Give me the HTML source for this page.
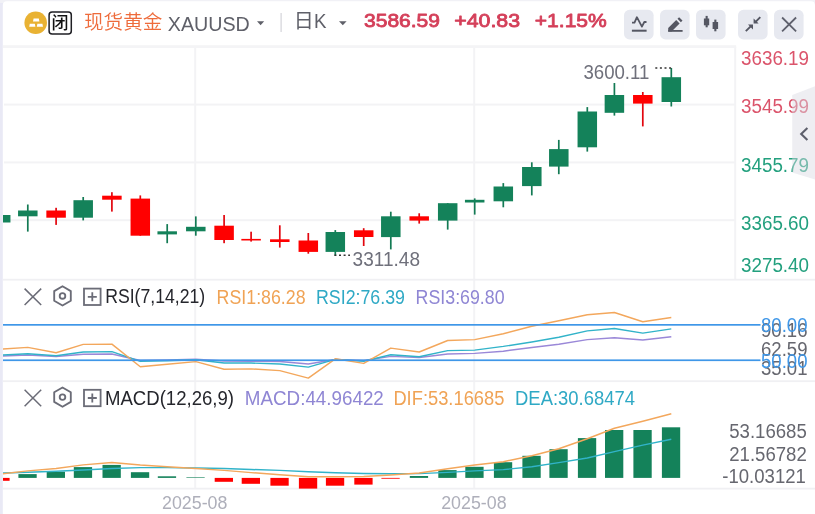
<!DOCTYPE html>
<html lang="zh"><head><meta charset="utf-8"><title>现货黄金 XAUUSD</title>
<style>html,body{margin:0;padding:0;background:#fff;}svg{display:block;font-family:'Liberation Sans', 'Noto Sans CJK SC', sans-serif;}</style></head>
<body><svg width="815" height="514" viewBox="0 0 815 514">
<defs><clipPath id="plot"><rect x="2.9" y="47" width="732" height="233"/></clipPath><clipPath id="plot2"><rect x="2.9" y="281" width="732" height="208"/></clipPath></defs>
<rect x="0" y="0" width="815" height="514" fill="#e9e9f5"/>
<rect x="0" y="0" width="815" height="3" fill="#f1f1f6"/>
<path d="M2.8 514 V5.2 a4 4 0 0 1 4-4 H811 a4 4 0 0 1 4 4 V514 Z" fill="#fff"/>
<rect x="4" y="103.6" width="731" height="2" fill="#f3f3f5"/>
<rect x="4" y="161.4" width="731" height="2" fill="#f3f3f5"/>
<rect x="4" y="219.2" width="731" height="2" fill="#f3f3f5"/>
<rect x="194.2" y="47" width="2" height="441" fill="#f3f3f5"/>
<rect x="473.2" y="47" width="2" height="441" fill="#f3f3f5"/>
<rect x="734.2" y="47" width="2" height="233" fill="#f3f3f5"/>
<rect x="3" y="45.2" width="733.2" height="2.8" fill="#f4f4f6"/>
<rect x="3" y="278.8" width="812" height="1.8" fill="#f0f0f3"/>
<rect x="3" y="380.3" width="812" height="1.8" fill="#f0f0f3"/>
<rect x="3" y="487.70000000000005" width="812" height="1.8" fill="#f0f0f3"/>
<circle cx="35.7" cy="22.8" r="11.3" fill="#e9b233"/>
<path d="M33.6 18.5h5.2l0.6 3.1h-6.4z M29.8 23.7h5l0.6 3.1h-6.2z M37.4 23.7h5l0.6 3.1h-6.2z" fill="#fff"/>
<rect x="49.1" y="12" width="22.2" height="22" rx="3" fill="#fff" stroke="#1f1f24" stroke-width="1.5"/>
<text x="51.6" y="29.4" font-size="17" fill="#111" font-weight="500">闭</text>
<text x="84" y="28.6" font-size="19.6" fill="#ee6b3b" font-weight="350">现货黄金</text>
<text x="167.8" y="30.9" font-size="20" fill="#5f6069" textLength="82" lengthAdjust="spacingAndGlyphs">XAUUSD</text>
<path d="M257 21.2h7.2l-3.6 4z" fill="#5f6069"/>
<rect x="280.5" y="13" width="1.2" height="19" fill="#d3d3d9"/>
<text x="293.8" y="27.9" font-size="20" fill="#5f6069">日</text>
<text x="314" y="27.6" font-size="20" fill="#5f6069" textLength="12.5" lengthAdjust="spacingAndGlyphs">K</text>
<path d="M339 21.2h7.6l-3.8 4z" fill="#5f6069"/>
<text x="364" y="27.1" font-size="19.2" fill="#d43f59" textLength="76" lengthAdjust="spacingAndGlyphs" stroke="#d43f59" stroke-width="0.85" stroke-linejoin="round">3586.59</text>
<text x="454.3" y="27.1" font-size="19.2" fill="#d43f59" textLength="65.8" lengthAdjust="spacingAndGlyphs" stroke="#d43f59" stroke-width="0.85" stroke-linejoin="round">+40.83</text>
<text x="534.8" y="27.1" font-size="19.2" fill="#d43f59" textLength="72" lengthAdjust="spacingAndGlyphs" stroke="#d43f59" stroke-width="0.85" stroke-linejoin="round">+1.15%</text>
<rect x="624" y="9.8" width="29.6" height="29.6" rx="5.5" fill="#e7e9f0"/>
<rect x="660" y="9.8" width="29.6" height="29.6" rx="5.5" fill="#e7e9f0"/>
<rect x="696" y="9.8" width="29.6" height="29.6" rx="5.5" fill="#e7e9f0"/>
<rect x="738" y="9.8" width="29.6" height="29.6" rx="5.5" fill="#e7e9f0"/>
<rect x="774" y="9.8" width="29.6" height="29.6" rx="5.5" fill="#e7e9f0"/>
<path d="M632 22.6h2.5l2.4-5.4 5 9.4 2.4-4.6h2.2" fill="none" stroke="#555763" stroke-width="1.8" stroke-linejoin="round"/>
<rect x="631.9" y="29.7" width="14.7" height="2" fill="#555763"/>
<path d="M668.2 31.5v-3.4l8-8 3.4 3.4-8 8z M677.5 18.8l1.6-1.6 3.4 3.4-1.6 1.6z" fill="#555763"/>
<rect x="668.2" y="30" width="14.4" height="1.8" fill="#555763"/>
<rect x="703.9" y="18.5" width="5.3" height="6.8" fill="#555763"/><rect x="705.6" y="15.9" width="2.1" height="11.4" fill="#555763"/>
<rect x="712.6" y="22" width="5.5" height="7" fill="#555763"/><rect x="714.3" y="19.6" width="2.1" height="11.7" fill="#555763"/>
<path d="M745.8 31.2l5.4-5.4M760.3 17.2l-5.2 5.2" stroke="#555763" stroke-width="1.9" fill="none"/><path d="M748 24.5h5v5zM753.6 18.6v5h5z" fill="#555763"/>
<path d="M782.1 17.5l14 13.8M796.1 17.5l-14 13.8" stroke="#5f616d" stroke-width="1.8" fill="none"/>
<g clip-path="url(#plot)">
<rect x="-0.15" y="215" width="1.7" height="7.5" fill="#137a54"/>
<rect x="-9.05" y="215" width="19.5" height="7.5" fill="#14825a"/>
<rect x="26.95" y="204.5" width="1.7" height="27.1" fill="#137a54"/>
<rect x="18.05" y="210.5" width="19.5" height="5.8" fill="#14825a"/>
<rect x="55.25" y="207.8" width="1.7" height="17.1" fill="#e2060e"/>
<rect x="46.35" y="210.5" width="19.5" height="7.2" fill="#ff0000"/>
<rect x="82.35" y="197" width="1.7" height="23.4" fill="#137a54"/>
<rect x="73.45" y="200.2" width="19.5" height="17.5" fill="#14825a"/>
<rect x="111.05" y="192.2" width="1.7" height="19.4" fill="#e2060e"/>
<rect x="102.15" y="195.7" width="19.5" height="4.0" fill="#ff0000"/>
<rect x="139.45" y="195.4" width="1.7" height="40.3" fill="#e2060e"/>
<rect x="130.55" y="198.6" width="19.5" height="37.1" fill="#ff0000"/>
<rect x="166.35" y="224.1" width="1.7" height="19.1" fill="#137a54"/>
<rect x="157.45" y="231.3" width="19.5" height="3.1" fill="#14825a"/>
<rect x="194.95" y="216.4" width="1.7" height="19.3" fill="#137a54"/>
<rect x="186.05" y="226.8" width="19.5" height="4.5" fill="#14825a"/>
<rect x="223.25" y="215" width="1.7" height="28.2" fill="#e2060e"/>
<rect x="214.35" y="225.7" width="19.5" height="14.3" fill="#ff0000"/>
<rect x="250.25" y="231.7" width="1.7" height="9.9" fill="#e2060e"/>
<rect x="241.35" y="238.9" width="19.5" height="1.6" fill="#ff0000"/>
<rect x="278.95" y="225.3" width="1.7" height="22.3" fill="#e2060e"/>
<rect x="270.05" y="239.3" width="19.5" height="2.7" fill="#ff0000"/>
<rect x="307.45" y="233" width="1.7" height="20.7" fill="#e2060e"/>
<rect x="298.55" y="240.5" width="19.5" height="11.4" fill="#ff0000"/>
<rect x="334.45" y="230.1" width="1.7" height="25.5" fill="#137a54"/>
<rect x="325.55" y="232" width="19.5" height="19.9" fill="#14825a"/>
<rect x="362.85" y="228.2" width="1.7" height="17.8" fill="#e2060e"/>
<rect x="353.95" y="230.3" width="19.5" height="6.7" fill="#ff0000"/>
<rect x="389.95" y="211.7" width="1.7" height="37.7" fill="#137a54"/>
<rect x="381.05" y="216.3" width="19.5" height="20.8" fill="#14825a"/>
<rect x="418.35" y="213.3" width="1.7" height="10.3" fill="#e2060e"/>
<rect x="409.45" y="216.3" width="19.5" height="4.3" fill="#ff0000"/>
<rect x="446.85" y="203.2" width="1.7" height="26.4" fill="#137a54"/>
<rect x="437.95" y="203.2" width="19.5" height="17.4" fill="#14825a"/>
<rect x="473.85" y="198.4" width="1.7" height="16.2" fill="#137a54"/>
<rect x="464.95" y="199.8" width="19.5" height="2.7" fill="#14825a"/>
<rect x="502.45" y="183.1" width="1.7" height="24.2" fill="#137a54"/>
<rect x="493.55" y="186.5" width="19.5" height="14.8" fill="#14825a"/>
<rect x="530.95" y="162.3" width="1.7" height="33.1" fill="#137a54"/>
<rect x="522.05" y="167" width="19.5" height="19.1" fill="#14825a"/>
<rect x="557.95" y="139.9" width="1.7" height="34.3" fill="#137a54"/>
<rect x="549.05" y="149.1" width="19.5" height="17.5" fill="#14825a"/>
<rect x="586.45" y="107.1" width="1.7" height="44.5" fill="#137a54"/>
<rect x="577.55" y="111.5" width="19.5" height="35.8" fill="#14825a"/>
<rect x="613.55" y="83" width="1.7" height="32.6" fill="#137a54"/>
<rect x="604.65" y="95" width="19.5" height="17.8" fill="#14825a"/>
<rect x="641.95" y="92" width="1.7" height="34.4" fill="#e2060e"/>
<rect x="633.05" y="95" width="19.5" height="8.6" fill="#ff0000"/>
<rect x="670.45" y="68" width="1.7" height="38.5" fill="#137a54"/>
<rect x="661.55" y="77.2" width="19.5" height="24.8" fill="#14825a"/>
</g>
<path d="M655.3 68H671.5" stroke="#333" stroke-width="1.4" stroke-dasharray="2 2.6" fill="none"/>
<path d="M334.4 255.3H350" stroke="#333" stroke-width="1.4" stroke-dasharray="2 2.6" fill="none"/>
<text x="583.4" y="78.6" font-size="19.6" fill="#6f707b" textLength="66" lengthAdjust="spacingAndGlyphs">3600.11</text>
<text x="352.6" y="265.9" font-size="19.6" fill="#6f707b" textLength="67.4" lengthAdjust="spacingAndGlyphs">3311.48</text>
<text x="741" y="64.9" font-size="20" fill="#db546b" textLength="68" lengthAdjust="spacingAndGlyphs">3636.19</text>
<text x="741" y="112.8" font-size="20" fill="#db546b" textLength="68" lengthAdjust="spacingAndGlyphs">3545.99</text>
<text x="741" y="171.9" font-size="20" fill="#23a07e" textLength="68" lengthAdjust="spacingAndGlyphs">3455.79</text>
<text x="741" y="230.1" font-size="20" fill="#23a07e" textLength="68" lengthAdjust="spacingAndGlyphs">3365.60</text>
<text x="741" y="272.2" font-size="20" fill="#23a07e" textLength="68" lengthAdjust="spacingAndGlyphs">3275.40</text>
<path d="M792.2 95L815 86.2V179.4L792.2 172.6Z" fill="#d9d9e2" fill-opacity="0.46"/>
<path d="M807.4 127.9l-6.2 6.1 6.2 6.1" stroke="#5d5f6b" stroke-width="2.1" fill="none"/>
<path d="M24.6 288.6l16.6 16.4M41.2 288.6l-16.6 16.4" stroke="#6b6c77" stroke-width="1.5" fill="none"/>
<path d="M62.5 286.29999999999995l8.3 4.8v9.6l-8.3 4.8l-8.3-4.8v-9.6z" stroke="#6b6c77" stroke-width="1.85" fill="none" stroke-linejoin="round"/>
<circle cx="62.5" cy="295.9" r="2.8" stroke="#6b6c77" stroke-width="1.85" fill="none"/>
<rect x="84" y="288.6" width="16.6" height="16.4" stroke="#6b6c77" stroke-width="1.8" fill="none"/>
<path d="M87.8 296.8h9M92.3 292.3v9" stroke="#6b6c77" stroke-width="1.8" fill="none"/>
<text x="105.2" y="303.4" font-size="20" fill="#25262c" textLength="100" lengthAdjust="spacingAndGlyphs">RSI(7,14,21)</text>
<text x="216.6" y="303.7" font-size="19.4" fill="#f0a355" textLength="89" lengthAdjust="spacingAndGlyphs">RSI1:86.28</text>
<text x="316" y="303.7" font-size="19.4" fill="#2fa9c5" textLength="89" lengthAdjust="spacingAndGlyphs">RSI2:76.39</text>
<text x="415.6" y="303.7" font-size="19.4" fill="#8f86d4" textLength="89" lengthAdjust="spacingAndGlyphs">RSI3:69.80</text>
<g clip-path="url(#plot2)">
<polyline points="0.7,356.0 27.8,355.0 56.1,356.5 83.2,354.2 111.9,354.0 140.3,360.5 167.2,360.0 195.8,359.3 224.1,361.0 251.1,361.2 279.8,361.5 308.3,364.0 335.3,359.5 363.7,360.5 390.8,356.4 419.2,357.5 447.7,354.0 474.7,353.4 503.3,351.2 531.8,347.5 558.8,344.2 587.3,339.6 614.4,337.8 642.8,340.0 671.3,336.8" fill="none" stroke="#9a88d8" stroke-width="1.45" stroke-linejoin="round"/>
<polyline points="0.7,355.1 27.8,353.8 56.1,355.7 83.2,352.0 111.9,351.6 140.3,361.4 167.2,360.8 195.8,359.7 224.1,363.0 251.1,363.0 279.8,364.0 308.3,367.1 335.3,359.4 363.7,361.2 390.8,354.8 419.2,356.8 447.7,350.6 474.7,350.1 503.3,346.4 531.8,342.0 558.8,337.3 587.3,330.9 614.4,328.5 642.8,333.1 671.3,328.9" fill="none" stroke="#31b3c9" stroke-width="1.45" stroke-linejoin="round"/>
<polyline points="0.7,349.2 27.8,347.4 56.1,352.7 83.2,344.4 111.9,344.1 140.3,366.7 167.2,364.3 195.8,361.6 224.1,369.3 251.1,368.9 279.8,370.6 308.3,378.1 335.3,358.8 363.7,363.4 390.8,348.1 419.2,352.0 447.7,340.5 474.7,339.6 503.3,333.7 531.8,326.3 558.8,320.8 587.3,314.7 614.4,312.5 642.8,321.7 671.3,317.5" fill="none" stroke="#f3a75c" stroke-width="1.45" stroke-linejoin="round"/>
</g>
<rect x="3" y="324" width="757.5" height="1.7" fill="#3f97e8"/>
<rect x="3" y="359.4" width="757.5" height="1.7" fill="#3f97e8"/>
<text x="761" y="337.2" font-size="19.6" fill="#66676f" textLength="46.5" lengthAdjust="spacingAndGlyphs">90.16</text>
<text x="761" y="355.6" font-size="19.6" fill="#66676f" textLength="46.5" lengthAdjust="spacingAndGlyphs">62.59</text>
<text x="761" y="374.8" font-size="19.6" fill="#66676f" textLength="46.5" lengthAdjust="spacingAndGlyphs">35.01</text>
<text x="761" y="331.8" font-size="19.6" fill="#3f97e8" textLength="46.5" lengthAdjust="spacingAndGlyphs">80.00</text>
<text x="761" y="367.9" font-size="19.6" fill="#3f97e8" textLength="46.5" lengthAdjust="spacingAndGlyphs">50.00</text>
<path d="M24.6 389.8l16.6 16.4M41.2 389.8l-16.6 16.4" stroke="#6b6c77" stroke-width="1.5" fill="none"/>
<path d="M62.5 387.49999999999994l8.3 4.8v9.6l-8.3 4.8l-8.3-4.8v-9.6z" stroke="#6b6c77" stroke-width="1.85" fill="none" stroke-linejoin="round"/>
<circle cx="62.5" cy="397.09999999999997" r="2.8" stroke="#6b6c77" stroke-width="1.85" fill="none"/>
<rect x="84" y="389.8" width="16.6" height="16.4" stroke="#6b6c77" stroke-width="1.8" fill="none"/>
<path d="M87.8 398.0h9M92.3 393.5v9" stroke="#6b6c77" stroke-width="1.8" fill="none"/>
<text x="105" y="404.9" font-size="20" fill="#25262c" textLength="129" lengthAdjust="spacingAndGlyphs">MACD(12,26,9)</text>
<text x="244.8" y="404.9" font-size="19.4" fill="#8f86d4" textLength="139" lengthAdjust="spacingAndGlyphs">MACD:44.96422</text>
<text x="393.4" y="404.9" font-size="19.4" fill="#f0a355" textLength="111" lengthAdjust="spacingAndGlyphs">DIF:53.16685</text>
<text x="515" y="404.9" font-size="19.4" fill="#2fa9c5" textLength="120" lengthAdjust="spacingAndGlyphs">DEA:30.68474</text>
<g clip-path="url(#plot2)">
<rect x="-8.7" y="477.9" width="18.3" height="2.9" fill="#ff0000"/>
<rect x="18.4" y="474.1" width="18.3" height="3.8" fill="#14825a"/>
<rect x="46.7" y="471.7" width="18.3" height="6.2" fill="#14825a"/>
<rect x="73.8" y="467.1" width="18.3" height="10.8" fill="#14825a"/>
<rect x="102.5" y="464.9" width="18.3" height="13.0" fill="#14825a"/>
<rect x="130.9" y="472.2" width="18.3" height="5.7" fill="#14825a"/>
<rect x="157.8" y="476.3" width="18.3" height="1.6" fill="#14825a"/>
<rect x="186.4" y="477.3" width="18.3" height="0.6" fill="#14825a"/>
<rect x="214.7" y="477.9" width="18.3" height="3.9" fill="#ff0000"/>
<rect x="241.7" y="477.9" width="18.3" height="5.9" fill="#ff0000"/>
<rect x="270.4" y="477.9" width="18.3" height="7.8" fill="#ff0000"/>
<rect x="298.9" y="477.9" width="18.3" height="10.7" fill="#ff0000"/>
<rect x="325.9" y="477.9" width="18.3" height="7.8" fill="#ff0000"/>
<rect x="354.3" y="477.9" width="18.3" height="6.7" fill="#ff0000"/>
<rect x="381.4" y="477.9" width="18.3" height="0.8" fill="#ff0000"/>
<rect x="409.8" y="476" width="18.3" height="1.9" fill="#14825a"/>
<rect x="438.3" y="470.1" width="18.3" height="7.8" fill="#14825a"/>
<rect x="465.3" y="466.8" width="18.3" height="11.1" fill="#14825a"/>
<rect x="493.9" y="462.2" width="18.3" height="15.7" fill="#14825a"/>
<rect x="522.4" y="455.8" width="18.3" height="22.1" fill="#14825a"/>
<rect x="549.4" y="449.2" width="18.3" height="28.7" fill="#14825a"/>
<rect x="577.9" y="438.1" width="18.3" height="39.8" fill="#14825a"/>
<rect x="605.0" y="430" width="18.3" height="47.9" fill="#14825a"/>
<rect x="633.4" y="430" width="18.3" height="47.9" fill="#14825a"/>
<rect x="661.9" y="427.3" width="18.3" height="50.6" fill="#14825a"/>
<polyline points="0.7,473.1 27.8,472.2 56.1,471.3 83.2,470.0 111.9,468.5 140.3,467.6 167.2,467.6 195.8,468.0 224.1,468.5 251.1,469.5 279.8,470.4 308.3,471.7 335.3,472.8 363.7,473.5 390.8,473.7 419.2,473.6 447.7,472.4 474.7,470.9 503.3,469.6 531.8,466.8 558.8,462.6 587.3,458.0 614.4,451.6 642.8,445.1 671.3,439.2" fill="none" stroke="#31b3c9" stroke-width="1.45" stroke-linejoin="round"/>
<polyline points="0.7,474.0 27.8,470.9 56.1,468.5 83.2,464.9 111.9,462.5 140.3,465.0 167.2,466.7 195.8,468.5 224.1,470.4 251.1,472.6 279.8,474.8 308.3,476.8 335.3,476.8 363.7,476.5 390.8,475.0 419.2,473.0 447.7,468.7 474.7,465.0 503.3,461.7 531.8,455.8 558.8,448.8 587.3,438.7 614.4,428.2 642.8,421.2 671.3,413.8" fill="none" stroke="#f3a75c" stroke-width="1.45" stroke-linejoin="round"/>
</g>
<text x="729.2" y="438" font-size="19.4" fill="#66676f" textLength="77.6" lengthAdjust="spacingAndGlyphs">53.16685</text>
<text x="729.2" y="460.8" font-size="19.4" fill="#66676f" textLength="77.6" lengthAdjust="spacingAndGlyphs">21.56782</text>
<text x="722.3" y="482.7" font-size="19.4" fill="#66676f" textLength="83.6" lengthAdjust="spacingAndGlyphs">-10.03121</text>
<text x="162" y="508.9" font-size="17.6" fill="#aeafba" textLength="65.4" lengthAdjust="spacingAndGlyphs">2025-08</text>
<text x="441.2" y="508.9" font-size="17.6" fill="#aeafba" textLength="65.4" lengthAdjust="spacingAndGlyphs">2025-08</text>
</svg></body></html>
